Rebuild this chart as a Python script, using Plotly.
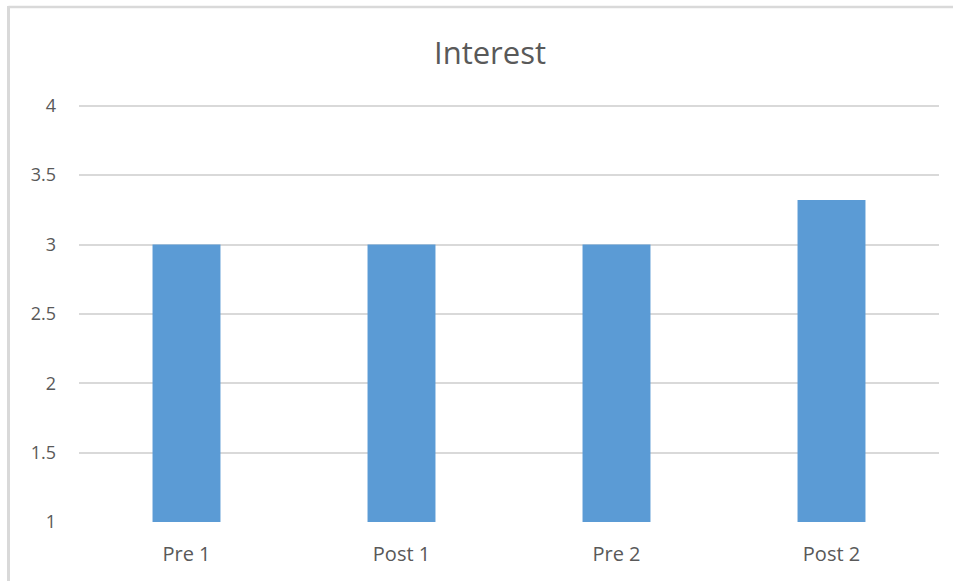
import plotly.graph_objects as go

# Survey scores for the "Interest" item
categories = ["Pre 1", "Post 1", "Pre 2", "Post 2"]
scores = [3.0, 3.0, 3.0, 3.32]
y_ticks = [1, 1.5, 2, 2.5, 3, 3.5, 4]
y_tick_text = ["1", "1.5", "2", "2.5", "3", "3.5", "4"]

W, H = 953, 581
L, R, T, B = 79, 14, 103, 59
pw, ph = W - L - R, H - T - B

fig = go.Figure(
    go.Bar(
        x=categories,
        y=[s - 1 for s in scores],
        base=1,
        width=0.316,
        marker=dict(color="#5b9bd5", line=dict(width=0)),
        hoverinfo="x+y",
    )
)

text_color = "#595959"
grid_color = "#d9d9d9"

fig.update_layout(
    width=W,
    height=H,
    margin=dict(l=L, r=R, t=T, b=B),
    paper_bgcolor="white",
    plot_bgcolor="white",
    showlegend=False,
    title=dict(
        text="Interest",
        x=490 / W,
        xanchor="center",
        xref="container",
        y=1 - 53 / H,
        yanchor="middle",
        font=dict(family="Open Sans", size=31, color=text_color),
    ),
    xaxis=dict(
        showgrid=False,
        zeroline=False,
        showline=False,
        ticks="",
        tickfont=dict(family="Open Sans", size=20, color=text_color),
        ticklabelstandoff=18,
    ),
    yaxis=dict(
        range=[1, 4.02],
        tickvals=y_ticks,
        ticktext=y_tick_text,
        showgrid=True,
        gridcolor=grid_color,
        gridwidth=2,
        zeroline=False,
        showline=False,
        ticks="",
        tickfont=dict(family="Open Sans", size=18, color=text_color),
        ticklabelstandoff=22,
    ),
    shapes=[
        # chart frame: left and top edges
        dict(type="line", xref="paper", yref="paper",
             x0=(8.5 - L) / pw, x1=(W + 5 - L) / pw,
             y0=(H - B - 7) / ph, y1=(H - B - 7) / ph,
             line=dict(color=grid_color, width=2.5)),
        dict(type="line", xref="paper", yref="paper",
             x0=(8.5 - L) / pw, x1=(8.5 - L) / pw,
             y0=(H - B - 6) / ph, y1=-(B + 5) / ph,
             line=dict(color=grid_color, width=3)),
    ],
)

fig.write_html("out.html")
